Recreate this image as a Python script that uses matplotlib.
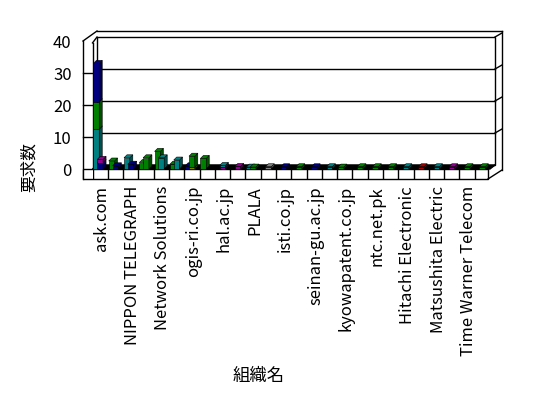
import numpy as np
import matplotlib.pyplot as plt
from matplotlib.patches import Polygon, Rectangle
from matplotlib.colors import to_rgb

plt.rcParams['font.family'] = ['Noto Sans CJK JP', 'DejaVu Sans']

# Categories (labels shown on every other slot, as in the original chart)
categories = ['ask.com', '', 'NIPPON TELEGRAPH', '', 'Network Solutions', '',
              'ogis-ri.co.jp', '', 'hal.ac.jp', '', 'PLALA', '', 'isti.co.jp', '',
              'seinan-gu.ac.jp', '', 'kyowapatent.co.jp', '', 'ntc.net.pk', '',
              'Hitachi Electronic', '', 'Matsushita Electric', '',
              'Time Warner Telecom', '']
y_ticks = [0, 10, 20, 30, 40]

# back row, stacked
teal_back = [12.5, 0, 3.5, 0, 0, 0, 0, 0, 0, 0, 0.6, 0, 0, 0, 0, 0, 0, 0, 0, 0, 0, 0, 0, 0, 0, 0]
green_back = [8.5, 2.5, 0, 2, 5.5, 1.5, 0, 3.3, 0, 0, 0, 0, 0, 0, 0, 0, 0.6, 0, 0, 0, 0, 0, 0, 0, 0, 0]
navy_back = [12, 0, 0, 0, 0, 0, 1, 0, 0, 0, 0, 0, 0, 0, 0, 0, 0, 0, 0, 0, 0, 0, 0, 0, 0, 0]

# front row, stacked
yellow_front = [0, 0, 0, 0, 0, 0, 0.6, 0, 0, 0, 0, 0, 0, 0, 0, 0, 0, 0, 0, 0, 0, 0, 0, 0, 0, 0]
navy_front = [2, 1, 1.5, 0, 0, 0, 0, 0, 0, 0, 0, 0, 0.7, 0, 0.7, 0, 0, 0, 0, 0, 0, 0, 0, 0, 0, 0]
magenta_front = [1, 0, 0, 0, 0, 0, 0, 0, 0.6, 0.8, 0, 0, 0, 0, 0, 0, 0, 0, 0, 0, 0, 0, 0, 0.7, 0, 0]
teal_front = [0, 0, 0, 0, 3.5, 2.8, 0, 0, 0.5, 0, 0, 0, 0, 0, 0, 0.7, 0, 0, 0, 0, 0.7, 0, 0.7, 0, 0, 0]
green_front = [0, 0, 0, 3.5, 0, 0, 3.4, 0, 0, 0, 0.6, 0, 0, 0.7, 0, 0, 0, 0.7, 0.7, 0.7, 0, 0, 0, 0, 0.7, 0.7]
red_front = [0, 0, 0, 0, 0, 0, 0, 0, 0, 0, 0, 0, 0, 0, 0, 0, 0, 0, 0, 0, 0, 0.7, 0, 0, 0, 0]
gray_front = [0, 0, 0, 0, 0, 0, 0, 0, 0, 0, 0, 0.7, 0, 0, 0, 0, 0, 0, 0, 0, 0, 0, 0, 0, 0, 0]

back_row = [(teal_back, '#008080'), (green_back, '#008000'), (navy_back, '#000080')]
front_row = [(yellow_front, '#808000'), (navy_front, '#000080'),
             (magenta_front, '#900090'), (teal_front, '#008080'),
             (green_front, '#008000'), (red_front, '#A00000'),
             (gray_front, '#808080')]

W, H = 548, 398
n = len(categories)
px_x = (490 - 92.5) / n      # pixels per category
px_y = 3.2                   # pixels per unit


def fx(x):
    return x / W


def fy(y):
    return 1 - y / H


fig = plt.figure(figsize=(W / 100, H / 100), dpi=100)
ax = fig.add_axes([fx(92.5), fy(179), fx(490) - fx(92.5), fy(41) - fy(179)])
ax.set_xlim(-0.5, n - 0.5)
ax.set_ylim(-10 / px_y, 40)
ax.patch.set_alpha(0)
for s in ax.spines.values():
    s.set_visible(False)

# frame geometry in data units
wx0 = -0.5 + 4.5 / px_x        # back wall left
wx1 = n - 0.5 + 5 / px_x       # back wall right
wy = 4 / px_y                  # back wall lift
ox = n - 0.5 + 12 / px_x       # outer right edge
lx = -0.5 - 9.5 / px_x         # left wall front edge
fb = -10 / px_y                # floor front bottom
fr = n - 0.5 - 2 / px_x        # floor front right
top_out = (169 - 31) / px_y
kw = dict(color='black', lw=1, clip_on=False)

# back wall
ax.add_patch(Rectangle((wx0, wy), wx1 - wx0, 40, fill=False, ec='black', lw=1,
                       clip_on=False, zorder=1))
for t in y_ticks[1:-1]:
    ax.plot([wx0, wx1], [t + wy, t + wy], zorder=1, **kw)
for t in y_ticks[1:]:
    ax.plot([wx1, ox], [t + wy, t + 2 * wy], zorder=1, **kw)
ax.plot([wx0, ox], [top_out, top_out], **kw)
ax.plot([ox, ox], [top_out, -1 / px_y], **kw)

# left wall
ax.plot([lx, lx], [fb, 40], **kw)
ax.plot([-0.5, -0.5], [0, 39.4], **kw)
ax.plot([lx, wx0], [40, top_out], **kw)
ax.plot([-0.5, wx0], [39.4, 40 + wy], **kw)
for t in y_ticks[1:-1]:
    ax.plot([lx, -0.5], [t, t], **kw)

# floor
ax.add_patch(Polygon([(-0.5, 0), (n - 0.5, 0), (wx1, wy), (wx0, wy)],
                     closed=True, fc='black', ec='black', lw=1, clip_on=False, zorder=2))
ax.add_patch(Rectangle((lx, fb), fr - lx, -fb, fc='white', ec='black', lw=1,
                       clip_on=False, zorder=2))
ax.vlines(np.arange(n - 1) + 0.5, fb, 0, color='black', lw=1, zorder=2)
ax.vlines([-0.5], fb, 0, color='black', lw=1, zorder=2)
ax.plot([fr, ox], [fb, -1 / px_y], **kw)
ax.plot([fr, wx1], [0, wy], **kw)

# 3D bars
ddx, ddy = 3 / px_x, 3 / px_y


def shade(c, f):
    r, g, b = to_rgb(c)
    return (r * f, g * f, b * f)


def draw_row(rows, offset, width):
    bottom = np.zeros(n)
    for vals, col in rows:
        vals = np.array(vals, dtype=float)
        x = np.arange(n) + offset
        m = vals > 0
        ax.bar(x[m], vals[m], width, bottom=bottom[m], color=col,
               edgecolor='black', linewidth=0.4, zorder=3)
        for xi, b, v in zip(x[m], bottom[m], vals[m]):
            x0, x1, t = xi - width / 2, xi + width / 2, b + v
            ax.add_patch(Polygon([(x1, b), (x1 + ddx, b + ddy), (x1 + ddx, t + ddy), (x1, t)],
                                 closed=True, fc=shade(col, 0.6), ec='black', lw=0.4, zorder=3))
            ax.add_patch(Polygon([(x0, t), (x1, t), (x1 + ddx, t + ddy), (x0 + ddx, t + ddy)],
                                 closed=True, fc=shade(col, 1.0), ec='black', lw=0.4, zorder=3))
        bottom = bottom + vals


draw_row(back_row, -0.25, 0.38)
draw_row(front_row, 0.0, 0.38)

# ticks and labels
ax.set_yticks(y_ticks)
ax.set_yticklabels([str(t) for t in y_ticks], fontsize=12)
ax.set_xticks(np.arange(n) + 0.1)
ax.set_xticklabels(categories, rotation=90, fontsize=12)
ax.tick_params(axis='y', length=0, pad=15)
ax.tick_params(axis='x', length=0, pad=5)

fig.text(fx(259), fy(376), '組織名', ha='center', va='center', fontsize=12.5)
fig.text(fx(29), fy(167), '要求数', ha='center', va='center', rotation=90, fontsize=12)

fig.savefig('out.png', dpi=100)
